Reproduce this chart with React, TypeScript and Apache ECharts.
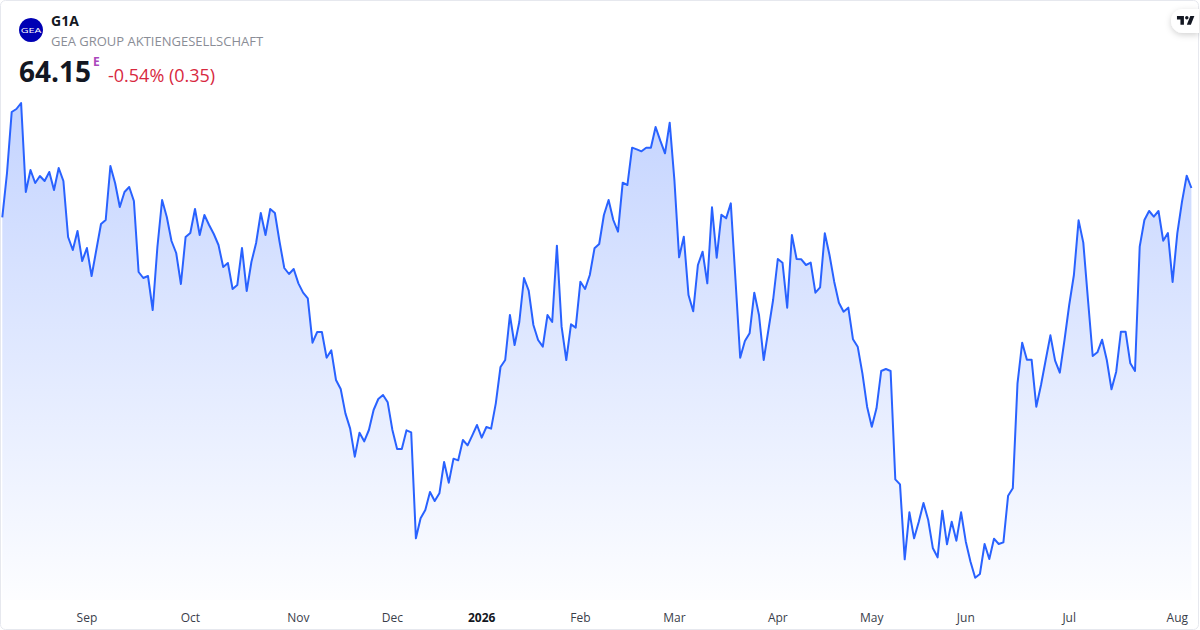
import React, { useEffect, useRef } from "react";
import * as echarts from "echarts";

const ticker = "G1A";
const companyName = "GEA GROUP AKTIENGESELLSCHAFT";
const lastPrice = "64.15";
const changeText = "-0.54% (0.35)";
const tickIndexes = [18, 40, 63, 83, 102, 123, 143, 165, 185, 205, 227, 250];
const tickLabels = ["Sep", "Oct", "Nov", "Dec", "2026", "Feb", "Mar", "Apr", "May", "Jun", "Jul", "Aug"];
const prices = [
  63.27, 64.6, 66.43, 66.52, 66.7, 64.03, 64.69, 64.3, 64.51, 64.36, 64.63, 64.09, 64.75, 64.36, 62.68, 62.29,
  62.86, 61.96, 62.35, 61.51, 62.29, 63.07, 63.19, 64.81, 64.3, 63.58, 64.03, 64.18, 63.76, 61.63, 61.45, 61.51,
  60.49, 62.38, 63.79, 63.28, 62.56, 62.2, 61.27, 62.68, 62.8, 63.52, 62.74, 63.34, 63.04, 62.77, 62.44, 61.78,
  61.9, 61.12, 61.24, 62.35, 61.06, 61.93, 62.5, 63.4, 62.74, 63.52, 63.4, 62.53, 61.75, 61.57, 61.72, 61.29,
  61.01, 60.84, 59.51, 59.83, 59.83, 59.06, 59.28, 58.39, 58.12, 57.39, 56.94, 56.09, 56.81, 56.55, 56.89, 57.49,
  57.82, 57.94, 57.72, 56.89, 56.32, 56.32, 56.88, 56.82, 53.64, 54.24, 54.49, 55.03, 54.76, 54.99, 55.93, 55.31,
  56.03, 55.98, 56.59, 56.43, 56.73, 57.04, 56.66, 56.98, 56.93, 57.69, 58.78, 58.99, 60.34, 59.44, 60.13, 61.45,
  61.07, 60.04, 59.59, 59.39, 60.34, 60.13, 62.42, 59.99, 58.99, 60.06, 59.96, 61.34, 61.12, 61.54, 62.34, 62.47,
  63.34, 63.79, 63.19, 62.84, 64.31, 64.24, 65.36, 65.31, 65.25, 65.36, 65.36, 65.98, 65.57, 65.19, 66.11, 64.39,
  62.07, 62.69, 60.94, 60.45, 61.84, 62.24, 61.29, 63.57, 62.06, 63.35, 63.24, 63.69, 61.39, 59.06, 59.56, 59.79,
  61.01, 60.34, 58.99, 59.89, 60.79, 62.02, 61.91, 60.56, 62.74, 62.02, 62.01, 61.84, 61.91, 61.01, 61.17, 62.79,
  62.14, 61.34, 60.71, 60.44, 60.56, 59.61, 59.39, 58.59, 57.59, 56.99, 57.54, 58.66, 58.72, 58.66, 55.41, 55.26,
  53.01, 54.42, 53.64, 54.14, 54.7, 54.19, 53.34, 53.07, 54.47, 53.46, 54.14, 53.57, 54.42, 53.54, 52.94, 52.46,
  52.57, 53.47, 53.02, 53.63, 53.47, 53.52, 54.92, 55.14, 58.29, 59.51, 59, 59, 57.59, 58.24, 58.99, 59.73,
  58.97, 58.61, 59.59, 60.64, 61.54, 63.18, 62.51, 60.79, 59.11, 59.22, 59.6, 58.99, 58.11, 58.64, 59.84, 59.84,
  58.89, 58.66, 62.39, 63.19, 63.46, 63.29, 63.46, 62.57, 62.8, 61.33, 62.79, 63.74, 64.52, 64.15,
];
const categories = prices.map((_, i) => String(i));

const FONT = "'Open Sans', 'Noto Sans', sans-serif";
const TV_LOGO = "M14 6H2v6h6v9h6V6Zm12 15h-7l6-15h7l-6 15Zm-7-9a3 3 0 1 0 0-6 3 3 0 0 0 0 6Z";

echarts.graphic.registerShape("tvlogo", echarts.graphic.extendPath(TV_LOGO, {}));

export default function App() {
  const ref = useRef<HTMLDivElement>(null);

  useEffect(() => {
    document.body.style.margin = "0";
    const chart = echarts.init(ref.current!, undefined, { renderer: "svg" });
    chart.setOption({
      animation: false,
      backgroundColor: "#ffffff",
      grid: { left: 2.3, top: 0, width: 1189.1, height: 600, containLabel: false },
      xAxis: {
        type: "category",
        boundaryGap: false,
        data: categories,
        axisLine: { show: false },
        axisTick: { show: false },
        splitLine: { show: false },
        axisLabel: {
          show: true,
          interval: (i: number) => tickIndexes.includes(i),
          formatter: (_: string, i: number) => {
            const pos = tickIndexes.indexOf(i);
            if (pos < 0) return "";
            return tickLabels[pos] === "2026" ? `{y|${tickLabels[pos]}}` : tickLabels[pos];
          },
          color: "#3a3e4a",
          fontFamily: FONT,
          fontSize: 12,
          margin: 11,
          rich: { y: { fontFamily: FONT, fontSize: 12, fontWeight: 700, color: "#131722" } },
        },
      },
      yAxis: { type: "value", min: 51.79, max: 69.79, show: false, splitLine: { show: false } },
      series: [
        {
          type: "line",
          data: prices,
          symbol: "none",
          showSymbol: false,
          smooth: false,
          lineStyle: { color: "#2962ff", width: 2, join: "round" },
          areaStyle: {
            origin: "start",
            opacity: 1,
            color: {
              type: "linear",
              global: true,
              x: 0,
              y: 0,
              x2: 0,
              y2: 620,
              colorStops: [
                { offset: 0, color: "rgba(41,98,255,0.33)" },
                { offset: 1, color: "rgba(41,98,255,0)" },
              ],
            },
          },
        },
      ],
      graphic: [
        { type: "rect", z: 10, silent: true, shape: { x: 0.5, y: 0.5, width: 1198, height: 629, r: 5 }, style: { fill: "none", stroke: "#e6e8ee", lineWidth: 1 } },
        { type: "circle", z: 11, shape: { cx: 31, cy: 30, r: 12 }, style: { fill: "#0000b4" } },
        { type: "text", z: 12, x: 31, y: 30, scaleX: 1.35, style: { text: "GEA", fill: "#ffffff", font: `400 8px ${FONT}`, textAlign: "center", textVerticalAlign: "middle" } },
        { type: "text", z: 11, x: 51, y: 20.5, style: { text: ticker, fill: "#131722", font: `700 14px ${FONT}`, textVerticalAlign: "middle" } },
        { type: "text", z: 11, x: 51, y: 40.5, style: { text: companyName, fill: "#8a8d96", font: `400 13px ${FONT}`, textVerticalAlign: "middle" } },
        { type: "text", z: 11, x: 19, y: 71, style: { text: lastPrice, fill: "#131722", font: `700 28px ${FONT}`, textVerticalAlign: "middle" } },
        { type: "text", z: 11, x: 93, y: 61.5, style: { text: "E", fill: "#ab47bc", font: `700 12px ${FONT}`, textVerticalAlign: "middle" } },
        { type: "text", z: 11, x: 108, y: 74.5, style: { text: changeText, fill: "#d8293f", font: `400 18px ${FONT}`, textVerticalAlign: "middle" } },
        {
          type: "rect",
          z: 11,
          shape: { x: 1171, y: 9, width: 28, height: 24, r: [12, 0, 0, 12] },
          style: { fill: "#ffffff", shadowBlur: 6, shadowColor: "rgba(0,0,0,0.18)", shadowOffsetY: 2 },
        },
        { type: "tvlogo", z: 12, x: 1175.8, y: 12.5, scaleX: 0.58, scaleY: 0.58, style: { fill: "#131722" } },
      ],
    });
    return () => chart.dispose();
  }, []);

  return <div ref={ref} style={{ position: "absolute", left: 0, top: 0, width: 1200, height: 630, overflow: "hidden" }} />;
}
